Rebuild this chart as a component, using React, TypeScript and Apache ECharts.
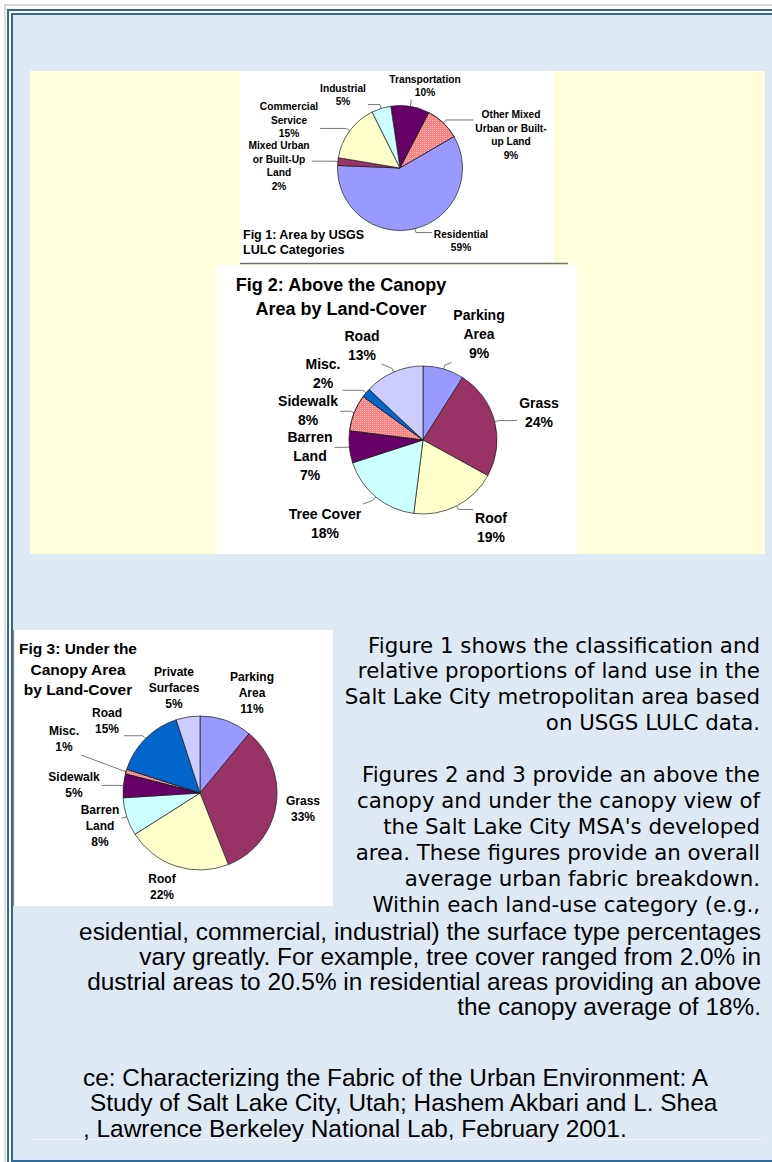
import React, { useEffect, useRef } from "react";
import * as echarts from "echarts";

// ---------- data ----------
const fig1Names = [
  "Transportation",
  "Other Mixed\nUrban or Built-\nup Land",
  "Residential",
  "Mixed Urban\nor Built-Up\nLand",
  "Commercial\nService",
  "Industrial",
];
const fig1Values = [10, 9, 59, 2, 15, 5];

const fig2Names = ["Parking\nArea", "Grass", "Roof", "Tree Cover", "Barren\nLand", "Sidewalk", "Misc.", "Road"];
const fig2Values = [9, 24, 19, 18, 7, 8, 2, 13];

const fig3Names = ["Parking\nArea", "Grass", "Roof", "Barren\nLand", "Sidewalk", "Misc.", "Road", "Private\nSurfaces"];
const fig3Values = [11, 33, 22, 8, 5, 1, 15, 5];

const fig1Title = "Fig 1: Area by USGS\nLULC Categories";
const fig2Title = "Fig 2: Above the Canopy\nArea by Land-Cover";
const fig3Title = "Fig 3: Under the\nCanopy Area\nby Land-Cover";

const paraLines1 = [
  "Figure 1 shows the classification and",
  "relative proportions of land use in the",
  "Salt Lake City metropolitan area based",
  "on USGS LULC data.",
];
const paraLines2 = [
  "Figures 2 and 3 provide an above the",
  "canopy and under the canopy view of",
  "the Salt Lake City MSA's developed",
  "area. These figures provide an overall",
  "average urban fabric breakdown.",
  "Within each land-use category (e.g.,",
];
const paraLines3 = [
  "esidential, commercial, industrial) the surface type percentages",
  "vary greatly. For example, tree cover ranged from 2.0% in",
  "dustrial areas to 20.5% in residential areas providing an above",
  "the canopy average of 18%.",
];
const sourceLines = [
  "ce: Characterizing the Fabric of the Urban Environment: A",
  "Study of Salt Lake City, Utah; Hashem Akbari and L. Shea",
  ", Lawrence Berkeley National Lab, February 2001.",
];

// ---------- styles / layout ----------
const fig1Colors = ["#660066", "#ff8080", "#9999ff", "#993366", "#ffffcc", "#ccffff"];
const fig2Colors = ["#9999ff", "#993366", "#ffffcc", "#ccffff", "#660066", "#ff8080", "#0066cc", "#ccccff"];
const fig3Colors = ["#9999ff", "#993366", "#ffffcc", "#ccffff", "#660066", "#ff8080", "#0066cc", "#ccccff"];

const fig1LabelPos = [[425, 86], [511, 135], [461, 241], [279, 166], [289, 120], [343, 95]];
const fig2LabelPos = [[479, 334], [539, 412], [491, 527], [325, 523], [310, 456], [308, 410], [323, 373], [362, 345]];
const fig3LabelPos = [[252, 693], [303, 809], [162, 887], [100, 826], [74, 785], [64, 739], [107, 721], [174, 688]];
const fig3LineShow = [false, false, false, true, true, true, true, false];

const ARIAL = '"Liberation Sans", Arial, sans-serif';
const VERDANA = '"DejaVu Sans", Verdana, sans-serif';

function makeLayout(values: number[], center: number[], radius: number, startAngle: number, labelPos: number[][]) {
  const total = values.reduce((a, b) => a + b, 0);
  return (params: any) => {
    const i = params.dataIndex;
    let acc = 0;
    for (let j = 0; j < i; j++) acc += values[j];
    const midDeg = startAngle - ((acc + values[i] / 2) / total) * 360;
    const a = (midDeg * Math.PI) / 180;
    const rx = center[0] + radius * Math.cos(a);
    const ry = center[1] - radius * Math.sin(a);
    const mx = center[0] + (radius + 4) * Math.cos(a);
    const my = center[1] - (radius + 4) * Math.sin(a);
    const [lx, ly] = labelPos[i];
    const w = params.labelRect.width;
    const h = params.labelRect.height;
    const ex = Math.min(Math.max(mx, lx - w / 2 - 2), lx + w / 2 + 2);
    const ey = Math.min(Math.max(my, ly - h / 2), ly + h / 2);
    return {
      x: lx,
      y: ly,
      align: "center",
      verticalAlign: "middle",
      labelLinePoints: [[rx, ry], [mx, my], [ex, ey]],
    };
  };
}

const dotDecal = {
  symbol: "rect",
  symbolSize: 1,
  color: "rgba(255,255,255,0.45)",
  dashArrayX: [1, 1],
  dashArrayY: [1, 1],
  rotation: 0,
};

function pieSeries(
  names: string[],
  values: number[],
  colors: string[],
  center: number[],
  radius: number,
  startAngle: number,
  labelPos: number[][],
  fontSize: number,
  lineHeight: number,
  lineShow?: boolean[]
) {
  return {
    type: "pie",
    center,
    radius,
    startAngle,
    clockwise: true,
    avoidLabelOverlap: false,
    silent: true,
    emphasis: { disabled: true },
    itemStyle: { borderColor: "#1a1a1a", borderWidth: 0.7 },
    data: names.map((n, i) => ({
      name: n,
      value: values[i],
      itemStyle: colors[i] === "#ff8080" ? { color: colors[i], decal: dotDecal } : { color: colors[i] },
      labelLine: { show: lineShow ? lineShow[i] : true },
    })),
    label: {
      show: true,
      position: "outside",
      formatter: (p: any) => `${p.name}\n${p.value}%`,
      color: "#000",
      fontFamily: ARIAL,
      fontWeight: "bold",
      fontSize,
      lineHeight,
      align: "center",
    },
    labelLine: { show: true, length: 4, length2: 4, lineStyle: { color: "#555", width: 0.8 } },
    labelLayout: makeLayout(values, center, radius, startAngle, labelPos),
  };
}

function txt(text: string, x: number, y: number, size: number, family: string, align: string, weight = "normal", lineHeight?: number) {
  return {
    type: "text",
    x,
    y,
    style: {
      text,
      fill: "#000",
      fontSize: size,
      fontFamily: family,
      fontWeight: weight,
      lineHeight: lineHeight || size * 1.2,
      align,
      textAlign: align,
      verticalAlign: "middle",
      textVerticalAlign: "middle",
    },
  };
}

export default function App() {
  const ref = useRef<HTMLDivElement>(null);
  useEffect(() => {
    const chart = echarts.init(ref.current!, null, { renderer: "svg", width: 772, height: 1162 });
    const graphics: any[] = [
      { type: "rect", shape: { x: 0, y: 0, width: 772, height: 1162 }, style: { fill: "#ffffff" } },
      { type: "rect", shape: { x: 5, y: 5, width: 800, height: 1200 }, style: { fill: "none", stroke: "#d9d9d9", lineWidth: 2 } },
      { type: "rect", shape: { x: 8, y: 10, width: 800, height: 1200 }, style: { fill: "none", stroke: "#336699", lineWidth: 2 } },
      { type: "rect", shape: { x: 12, y: 14, width: 800, height: 1147 }, style: { fill: "#dfe9f3", stroke: "#336699", lineWidth: 2 } },
      { type: "rect", shape: { x: 30, y: 71, width: 735, height: 483 }, style: { fill: "#ffffdb" } },
      { type: "rect", shape: { x: 240, y: 71, width: 314, height: 192 }, style: { fill: "#ffffff" } },
      { type: "rect", shape: { x: 216, y: 265, width: 361, height: 289 }, style: { fill: "#ffffff" } },
      { type: "line", shape: { x1: 240, y1: 263.5, x2: 568, y2: 263.5 }, style: { stroke: "#707070", lineWidth: 1.5 } },
      { type: "rect", shape: { x: 13, y: 630, width: 320, height: 276 }, style: { fill: "#ffffff" } },
      { type: "line", shape: { x1: 13.5, y1: 630, x2: 13.5, y2: 906 }, style: { stroke: "#8a8a8a", lineWidth: 1.2 } },
      { type: "line", shape: { x1: 33, y1: 1139.5, x2: 761, y2: 1139.5 }, style: { stroke: "#f3f7fb", lineWidth: 1 } },
      txt(fig1Title, 243, 242.5, 12.5, ARIAL, "left", "bold", 15),
      txt(fig2Title, 341, 297, 18, ARIAL, "center", "bold", 24),
      txt(fig3Title, 78, 669, 15.5, ARIAL, "center", "bold", 20.5),
    ];
    paraLines1.forEach((l, k) => graphics.push(txt(l, 760, 645 + k * 25.9, 21.33, VERDANA, "right")));
    paraLines2.forEach((l, k) => graphics.push(txt(l, 760, 645 + (k + 5) * 25.9, 21.33, VERDANA, "right")));
    paraLines3.forEach((l, k) => graphics.push(txt(l, 761, 931 + k * 25.3, 24.4, ARIAL, "right")));
    sourceLines.forEach((l, k) => graphics.push(txt(l, k === 1 ? 90 : 83, 1077 + k * 25.5, 24.4, ARIAL, "left")));

    chart.setOption({
      animation: false,
      graphic: { elements: graphics },
      series: [
        pieSeries(fig1Names, fig1Values, fig1Colors, [400, 168], 62.5, 98.5, fig1LabelPos, 10.2, 13.5),
        pieSeries(fig2Names, fig2Values, fig2Colors, [423, 440], 74, 90, fig2LabelPos, 14, 19),
        pieSeries(fig3Names, fig3Values, fig3Colors, [200, 793], 77, 90, fig3LabelPos, 12, 16, fig3LineShow),
      ],
    });
    return () => chart.dispose();
  }, []);
  return <div ref={ref} style={{ position: "absolute", left: 0, top: 0, width: 772, height: 1162 }} />;
}
